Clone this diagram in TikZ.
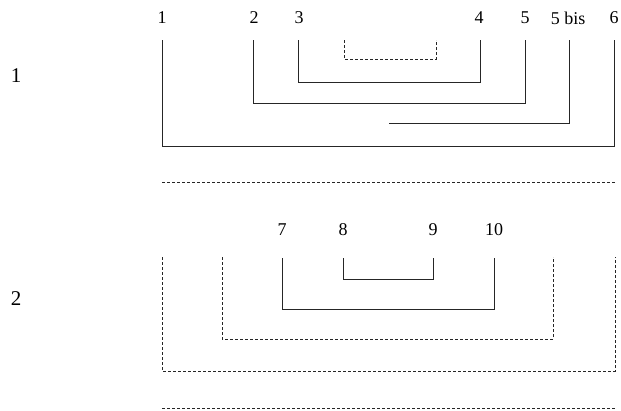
\documentclass[tikz,border=0pt]{standalone}
\usepackage{fontspec}
\setmainfont{Liberation Serif}
\begin{document}
\begin{tikzpicture}[x=1pt,y=-1pt,
  lbl/.style={inner sep=0pt,font=\fontsize{18}{20}\selectfont},
  rowlbl/.style={inner sep=0pt,font=\fontsize{21}{24}\selectfont},
  solidln/.style={draw=black!85,line width=0.8pt},
  dashln/.style={draw=black!85,line width=0.8pt,dash pattern=on 3pt off 2pt}]
\useasboundingbox (0,0) rectangle (621,410);
% row labels
\node[rowlbl] (r1) at (16,76) {1};
\node[rowlbl] (r2) at (16,299) {2};
% top labels
\node[lbl] (l1) at (162,18) {1};
\node[lbl] (l2) at (254,18) {2};
\node[lbl] (l3) at (299,18) {3};
\node[lbl] (l4) at (479,18) {4};
\node[lbl] (l5) at (525,18) {5};
\node[lbl] (l5b) at (568,18) {5 bis};
\node[lbl] (l6) at (614,18) {6};
% coordinates row 1
\coordinate (t1) at (162,40); \coordinate (b1) at (614,146);
\coordinate (t6) at (614,40);
\coordinate (t2) at (253,40); \coordinate (b2) at (525,103);
\coordinate (t5) at (525,40);
\coordinate (t3) at (298,40); \coordinate (b3) at (480,82);
\coordinate (t4) at (480,40);
\coordinate (td1) at (344,40); \coordinate (bd1) at (436,59);
\coordinate (td2) at (436,40);
\coordinate (t5b) at (569,40); \coordinate (e5b) at (389,123);
\coordinate (s1a) at (162,182); \coordinate (s1b) at (615,182);
% row 1 brackets
\draw[solidln] (t1) |- (b1) -- (t6);
\draw[solidln] (t2) |- (b2) -- (t5);
\draw[solidln] (t3) |- (b3) -- (t4);
\draw[dashln] (td1) |- (bd1) -- (td2);
\draw[solidln] (t5b) |- (e5b);
\draw[dashln] (s1a) -- (s1b);
% second row labels
\node[lbl] (l7) at (282,230) {7};
\node[lbl] (l8) at (343,230) {8};
\node[lbl] (l9) at (433,230) {9};
\node[lbl] (l10) at (494,230) {10};
\coordinate (t7) at (282,258); \coordinate (b7) at (494,309);
\coordinate (t10) at (494,258);
\coordinate (t8) at (343,258); \coordinate (b8) at (433,279);
\coordinate (t9) at (433,258);
\coordinate (td3) at (222,257); \coordinate (bd3) at (553,339);
\coordinate (td4) at (553,257);
\coordinate (td5) at (162,257); \coordinate (bd5) at (615,371);
\coordinate (td6) at (615,257);
\coordinate (s2a) at (162,408); \coordinate (s2b) at (615,408);
\draw[solidln] (t8) |- (b8) -- (t9);
\draw[solidln] (t7) |- (b7) -- (t10);
\draw[dashln] (td3) |- (bd3) -- (td4);
\draw[dashln] (td5) |- (bd5) -- (td6);
\draw[dashln] (s2a) -- (s2b);
\end{tikzpicture}
\end{document}
